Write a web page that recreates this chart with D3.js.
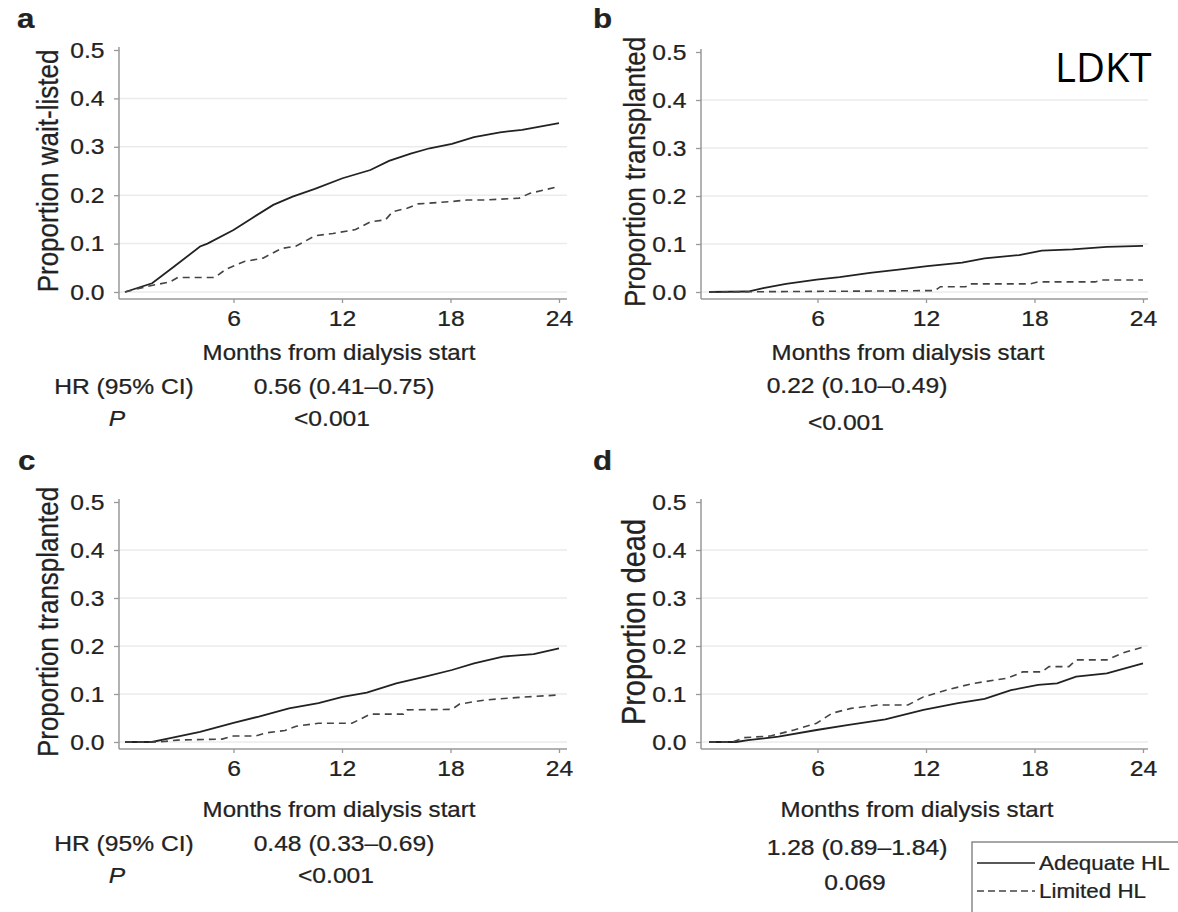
<!DOCTYPE html>
<html>
<head>
<meta charset="utf-8">
<script src="https://cdn.jsdelivr.net/npm/d3@7"></script>
<style>
  body { margin: 0; background: #fff; }
  svg { display: block; font-family: "Liberation Sans", Arial, sans-serif; }
  text { stroke: #222; stroke-width: 0.25px; }
</style>
</head>
<body>
<script>
// cumulative incidence curves (months, proportion)
const aSolidT = [0, 1.5, 2.7, 4.15, 4.56, 6, 7, 8.2, 9.27, 10.5, 12.03, 13.57, 14.6, 15.8, 16.85, 18.08, 19.3, 20.74, 21.96, 24]
const aSolidV = [0, 0.018, 0.052, 0.094, 0.10, 0.128, 0.152, 0.18, 0.197, 0.213, 0.235, 0.252, 0.271, 0.286, 0.297, 0.306, 0.32, 0.33, 0.335, 0.349]
const aDashT = [0, 1.28, 2.5, 2.92, 4.97, 5.58, 6.6, 7.63, 8.66, 9.47, 10.5, 11.5, 12.75, 13.57, 14.4, 14.8, 15.6, 16.2, 18.08, 18.9, 19.9, 21.8, 22.4, 24]
const aDashV = [0, 0.012, 0.021, 0.03, 0.03, 0.047, 0.063, 0.07, 0.09, 0.095, 0.116, 0.121, 0.129, 0.145, 0.149, 0.166, 0.173, 0.182, 0.187, 0.19, 0.19, 0.194, 0.204, 0.218]

const bSolidT = [0, 2.16, 3.0, 4.26, 5.95, 7.22, 8.9, 10.6, 12.07, 14.0, 15.24, 17.15, 18.4, 20.1, 22.0, 24]
const bSolidV = [0, 0.001, 0.008, 0.017, 0.026, 0.031, 0.04, 0.047, 0.054, 0.061, 0.07, 0.077, 0.086, 0.089, 0.094, 0.096]
const bDashT = [0, 9, 12.5, 12.8, 14.2, 14.4, 17.75, 18.2, 21.35, 21.7, 24]
const bDashV = [0, 0.002, 0.003, 0.011, 0.011, 0.017, 0.017, 0.021, 0.021, 0.025, 0.025]

const cSolidT = [0, 1.49, 2.5, 4.15, 6.0, 7.4, 9.07, 10.7, 12.03, 13.37, 15.0, 16.6, 18.08, 19.3, 20.9, 22.6, 24]
const cSolidV = [0, 0, 0.008, 0.021, 0.04, 0.053, 0.07, 0.081, 0.094, 0.103, 0.122, 0.136, 0.15, 0.164, 0.178, 0.183, 0.195]
const cDashT = [0, 1.9, 2.9, 5.37, 6.0, 7.2, 7.8, 8.85, 9.47, 10.7, 12.55, 13.57, 15.4, 15.6, 18.08, 18.5, 19.9, 21.8, 24]
const cDashV = [0, 0, 0.004, 0.006, 0.0125, 0.0125, 0.019, 0.024, 0.033, 0.039, 0.039, 0.058, 0.058, 0.067, 0.068, 0.079, 0.0875, 0.093, 0.098]

const dSolidT = [0, 1.5, 2.16, 3.84, 5.95, 7.64, 9.75, 11.86, 13.77, 15.24, 16.7, 18.2, 19.25, 20.3, 22.0, 24]
const dSolidV = [0, 0, 0.004, 0.011, 0.025, 0.035, 0.047, 0.067, 0.081, 0.09, 0.108, 0.119, 0.122, 0.136, 0.143, 0.164]
const dDashT = [0, 1.3, 1.94, 3.4, 4.7, 5.95, 6.8, 7.85, 9.33, 11.0, 11.86, 13.1, 14.6, 16.5, 17.35, 18.4, 18.8, 19.9, 20.3, 22.0, 22.85, 24]
const dDashV = [0, 0, 0.009, 0.0125, 0.025, 0.039, 0.06, 0.07, 0.077, 0.077, 0.094, 0.108, 0.122, 0.133, 0.146, 0.146, 0.157, 0.157, 0.171, 0.171, 0.185, 0.198]

const panelLetters = ['a', 'b', 'c', 'd']
const yTitles = ['Proportion wait-listed', 'Proportion transplanted', 'Proportion transplanted', 'Proportion dead']
const xTitle = 'Months from dialysis start'
const xTicks = [6, 12, 18, 24]
const yTicks = [0, 0.1, 0.2, 0.3, 0.4, 0.5]
const gridTicks = [0, 0.1, 0.2, 0.3, 0.4]
const hrLabel = 'HR (95% CI)'
const pLabel = 'P'
const hrValues = ['0.56 (0.41\u20130.75)', '0.22 (0.10\u20130.49)', '0.48 (0.33\u20130.69)', '1.28 (0.89\u20131.84)']
const pValues = ['<0.001', '<0.001', '<0.001', '0.069']
const seriesNames = ['Adequate HL', 'Limited HL']

const series = [
    [[aSolidT, aSolidV], [aDashT, aDashV]],
    [[bSolidT, bSolidV], [bDashT, bDashV]],
    [[cSolidT, cSolidV], [cDashT, cDashV]],
    [[dSolidT, dSolidV], [dDashT, dDashV]]
]

// layout of the four panels
const panels = [
    { x: [125, 559], y: [292, 50], ax: 119, ay: 299, end: 567, top: 47, yl: 48, yls: 26, letter: [17, 28],
      xt: [339, 352], hr: [344, 386], p: [332, 418], hrl: [124, 386], pl: [117, 418] },
    { x: [709, 1143], y: [292, 52], ax: 701, ay: 299, end: 1148, top: 49, yl: 635, yls: 26, letter: [593, 28],
      xt: [908, 352], hr: [857, 385], p: [846, 422] },
    { x: [125, 559], y: [742, 502], ax: 119, ay: 749, end: 567, top: 499, yl: 48, yls: 26, letter: [18, 470],
      xt: [339, 809], hr: [344, 843], p: [336, 875], hrl: [124, 843], pl: [117, 875] },
    { x: [709, 1143], y: [742, 502], ax: 701, ay: 749, end: 1148, top: 499, yl: 633, yls: 29, letter: [593, 470],
      xt: [917, 809], hr: [857, 847], p: [855, 882] }
]

const SX = 1.12  // the figure is a bit stretched horizontally
const ink = '#222'

const svg = d3.select('body').append('svg')
    .attr('width', 1178)
    .attr('height', 912)

function label(x, y, str, size, opts) {
    opts = opts || {}
    return svg.append('text')
        .attr('transform', 'translate(' + x + ',' + y + ') scale(' + SX + ',1)')
        .attr('text-anchor', opts.anchor || 'middle')
        .attr('dy', '0.36em')
        .style('font-size', size + 'px')
        .style('font-weight', opts.bold ? 'bold' : 'normal')
        .style('font-style', opts.italic ? 'italic' : 'normal')
        .style('fill', ink)
        .text(str)
}

panels.forEach(function (p, i) {
    const x = d3.scaleLinear().domain([0, 24]).range(p.x)
    const y = d3.scaleLinear().domain([0, 0.5]).range(p.y)
    const g = svg.append('g')

    // grid
    g.selectAll('.grid').data(gridTicks).join('line')
        .attr('x1', p.ax).attr('x2', p.end)
        .attr('y1', d => y(d)).attr('y2', d => y(d))
        .attr('stroke', '#ebebeb').attr('stroke-width', 1.5)

    // axes
    g.append('g')
        .attr('transform', 'translate(' + p.ax + ',0)')
        .call(d3.axisLeft(y).tickValues(yTicks).tickSize(5).tickPadding(8).tickFormat(d3.format('.1f')))
        .call(a => a.select('.domain').remove())
        .call(a => a.selectAll('line').attr('stroke', '#999').attr('stroke-width', 1.3))
        .call(a => a.selectAll('text').attr('transform', 'scale(' + SX + ',1)')
            .style('font-size', '22px').style('fill', ink).style('font-family', '"Liberation Sans", Arial, sans-serif'))

    g.append('g')
        .attr('transform', 'translate(0,' + p.ay + ')')
        .call(d3.axisBottom(x).tickValues(xTicks).tickSize(4).tickPadding(7))
        .call(a => a.select('.domain').remove())
        .call(a => a.selectAll('line').attr('stroke', '#999').attr('stroke-width', 1.3))
        .call(a => a.selectAll('text').attr('transform', 'scale(' + SX + ',1)')
            .style('font-size', '22px').style('fill', ink).style('font-family', '"Liberation Sans", Arial, sans-serif'))

    g.append('line').attr('x1', p.ax).attr('x2', p.ax).attr('y1', p.top).attr('y2', p.ay)
        .attr('stroke', '#999').attr('stroke-width', 1.5)
    g.append('line').attr('x1', p.ax).attr('x2', p.end).attr('y1', p.ay).attr('y2', p.ay)
        .attr('stroke', '#999').attr('stroke-width', 1.5)

    // curves
    const line = d3.line().x(d => x(d[0])).y(d => y(d[1]))
    series[i].forEach(function (s, k) {
        const pts = s[0].map((t, j) => [t, s[1][j]])
        g.append('path')
            .attr('d', line(pts))
            .attr('fill', 'none')
            .attr('stroke', k === 0 ? '#222' : '#444')
            .attr('stroke-width', k === 0 ? 1.8 : 1.6)
            .attr('stroke-dasharray', k === 0 ? null : '7,5')
    })

    // titles
    label(p.letter[0], p.letter[1], panelLetters[i], 28, { anchor: 'start', bold: true }).attr('dy', 0)
    svg.append('text')
        .attr('transform', 'translate(' + p.yl + ',' + (p.y[0] + p.y[1]) / 2 + ') rotate(-90) scale(1,' + SX + ')')
        .attr('text-anchor', 'middle')
        .attr('dy', '0.36em')
        .style('font-size', p.yls + 'px')
        .style('fill', ink)
        .text(yTitles[i])
    label(p.xt[0], p.xt[1], xTitle, 21.5)
    label(p.hr[0], p.hr[1], hrValues[i], 22)
    label(p.p[0], p.p[1], pValues[i], 22)
    if (p.hrl) {
        label(p.hrl[0], p.hrl[1], hrLabel, 22)
        label(p.pl[0], p.pl[1], pLabel, 22, { italic: true })
    }
})

svg.append('text')
    .attr('x', 1055).attr('y', 82)
    .style('font-family', '"Open Sans", sans-serif')
    .style('font-size', '40px')
    .style('fill', '#000')
    .style('stroke', 'none')
    .text('LDKT')

// legend
const leg = svg.append('g')
leg.append('rect')
    .attr('x', 972).attr('y', 842).attr('width', 230).attr('height', 100)
    .attr('fill', '#fff').attr('stroke', '#777').attr('stroke-width', 1.3)
seriesNames.forEach(function (name, k) {
    const yy = 863 + k * 28
    leg.append('line')
        .attr('x1', 977).attr('x2', 1035).attr('y1', yy).attr('y2', yy)
        .attr('stroke', k === 0 ? '#222' : '#444').attr('stroke-width', 1.5)
        .attr('stroke-dasharray', k === 0 ? null : '7,4')
    label(1039, yy, name, 20, { anchor: 'start' })
})
</script>
</body>
</html>
